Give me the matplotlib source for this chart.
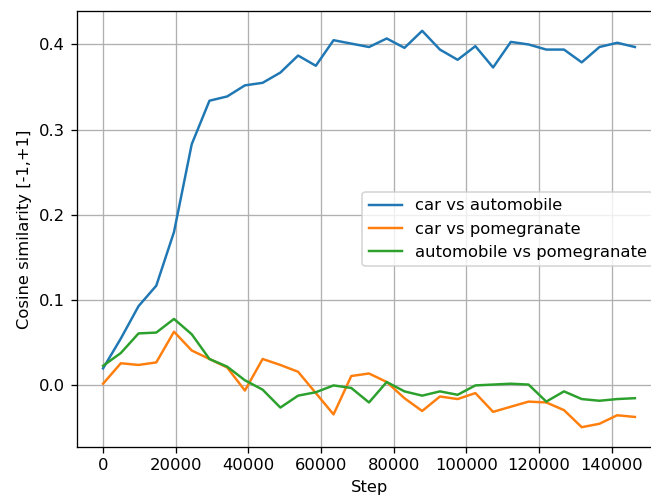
import matplotlib
matplotlib.use("Agg")
import matplotlib.pyplot as plt

steps = [0, 4880, 9760, 14640, 19520, 24400, 29280, 34160, 39040, 43920,
         48800, 53680, 58560, 63440, 68320, 73200, 78080, 82960, 87840, 92720,
         97600, 102480, 107360, 112240, 117120, 122000, 126880, 131760, 136640,
         141520, 146400]

car_automobile = [0.020, 0.055, 0.093, 0.117, 0.180, 0.283, 0.334, 0.339,
                  0.352, 0.355, 0.367, 0.387, 0.375, 0.405, 0.401, 0.397,
                  0.407, 0.396, 0.416, 0.394, 0.382, 0.398, 0.373, 0.403,
                  0.400, 0.394, 0.394, 0.379, 0.397, 0.402, 0.397]

car_pomegranate = [0.002, 0.026, 0.024, 0.027, 0.063, 0.041, 0.031, 0.021,
                   -0.006, 0.031, 0.024, 0.016, -0.009, -0.034, 0.011, 0.014,
                   0.004, -0.015, -0.030, -0.013, -0.016, -0.009, -0.031,
                   -0.025, -0.019, -0.020, -0.029, -0.049, -0.045, -0.035,
                   -0.037]

automobile_pomegranate = [0.023, 0.038, 0.061, 0.062, 0.078, 0.060, 0.031,
                          0.022, 0.006, -0.005, -0.026, -0.012, -0.008, 0.000,
                          -0.003, -0.020, 0.004, -0.007, -0.012, -0.007,
                          -0.011, 0.000, 0.001, 0.002, 0.001, -0.019, -0.007,
                          -0.016, -0.018, -0.016, -0.015]

DPI = 118
W, H = 651, 498

fig = plt.figure(figsize=(W / DPI, H / DPI), dpi=DPI)
# axes run a little past the right edge of the canvas
ax = fig.add_axes([76.5 / W, 51 / H, 585 / W, 436 / H])

ax.plot(steps, car_automobile, label="car vs automobile")
ax.plot(steps, car_pomegranate, label="car vs pomegranate")
ax.plot(steps, automobile_pomegranate, label="automobile vs pomegranate")

ax.set_xlabel("Step")
ax.set_ylabel("Cosine similarity [-1,+1]")
ax.grid(True)
ax.legend(loc="center right")

fig.savefig("out.png", dpi=DPI)
